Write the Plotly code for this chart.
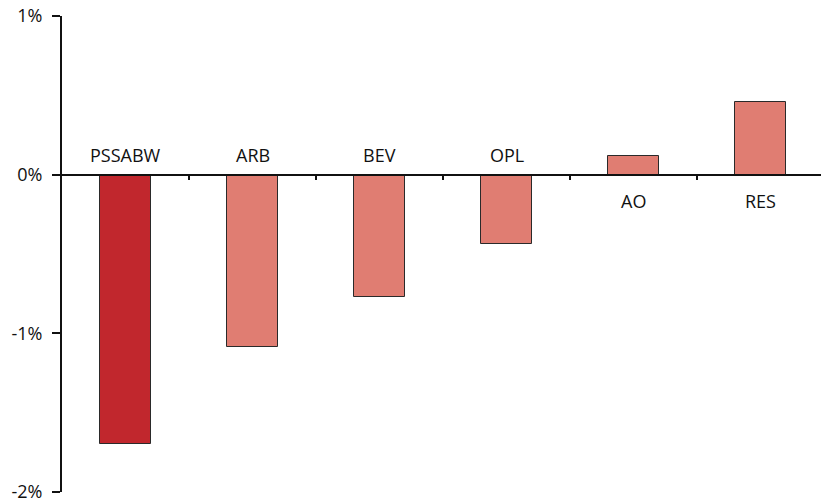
import plotly.graph_objects as go

categories = ["PSSABW", "ARB", "BEV", "OPL", "AO", "RES"]
values = [-1.70, -1.085, -0.77, -0.435, 0.12, 0.46]
colors = ["#C1272D", "#E07D72", "#E07D72", "#E07D72", "#E07D72", "#E07D72"]
ytick_vals = [1, 0, -1, -2]
ytick_text = ["1%", "0%", "-1%", "-2%"]

xs = list(range(len(categories)))

fig = go.Figure()
fig.add_trace(go.Bar(
    x=xs, y=values, width=0.4,
    marker=dict(color=colors, line=dict(color="#2a2a2a", width=1)),
    hoverinfo="skip",
))

for i, (c, v) in enumerate(zip(categories, values)):
    if v < 0:
        fig.add_annotation(x=i, y=0, text=c, showarrow=False, yanchor="bottom", yshift=6,
                           font=dict(size=18, color="#111"))
    else:
        fig.add_annotation(x=i, y=0, text=c, showarrow=False, yanchor="top", yshift=-12,
                           font=dict(size=18, color="#111"))

fig.update_layout(
    width=821, height=502,
    margin=dict(l=62, r=0, t=16, b=10, autoexpand=False),
    plot_bgcolor="white", paper_bgcolor="white",
    showlegend=False,
    font=dict(family="Open Sans, sans-serif", color="#111"),
    bargap=0,
    xaxis=dict(
        range=[-0.5, 5.476], tickvals=[0.5, 1.5, 2.5, 3.5, 4.5],
        showticklabels=False, ticks="outside", ticklen=5, tickwidth=1.5, tickcolor="#111",
        showline=True, linecolor="#111", linewidth=1.5, showgrid=False, zeroline=False,
        anchor="free", position=2/3, automargin=False,
    ),
    yaxis=dict(
        range=[-2, 1], tickvals=ytick_vals, ticktext=ytick_text,
        ticks="outside", ticklen=8, tickwidth=1.5, tickcolor="#111",
        showline=True, linecolor="#111", linewidth=2, showgrid=False, zeroline=False,
        tickfont=dict(size=18, color="#111"), ticklabelstandoff=6, automargin=False,
        ticklabeloverflow="allow",
    ),
)

fig.write_html("out.html", config={"displayModeBar": False},
               post_script="document.body.style.margin='0';")
